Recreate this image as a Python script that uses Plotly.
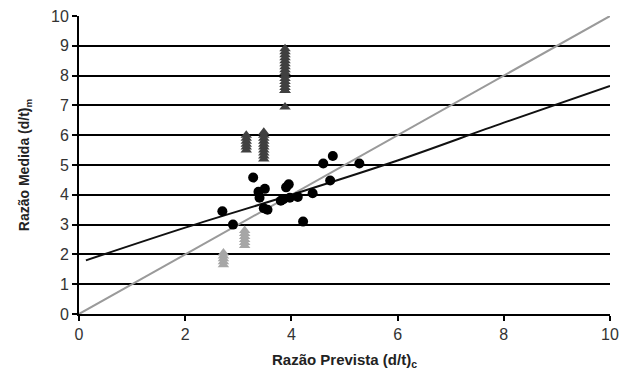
import plotly.graph_objects as go

# Black circles (measured data)
dots_x = [2.7, 2.9, 3.28, 3.38, 3.5, 3.4, 3.48, 3.55, 3.85, 3.9, 3.95, 3.97, 4.12, 4.22, 4.4, 4.6, 4.78, 4.73, 5.28, 3.8]
dots_y = [3.45, 3.0, 4.58, 4.1, 4.2, 3.9, 3.55, 3.5, 3.85, 4.25, 4.35, 3.9, 3.93, 3.1, 4.05, 5.05, 5.3, 4.48, 5.05, 3.8]

# Dark grey triangles
dark_x = [3.15, 3.15, 3.15, 3.15, 3.15, 3.15,
          3.48, 3.48, 3.48, 3.48, 3.48, 3.48, 3.48, 3.48, 3.48, 3.48,
          3.88, 3.88, 3.88, 3.88, 3.88, 3.88, 3.88, 3.88, 3.88, 3.88, 3.88, 3.88, 3.88, 3.88, 3.88, 3.88, 3.88]
dark_y = [5.5, 5.6, 5.7, 5.8, 5.9, 6.0,
          5.2, 5.3, 5.4, 5.5, 5.6, 5.7, 5.8, 5.9, 6.0, 6.1,
          7.5, 7.6, 7.7, 7.8, 7.9, 8.0, 8.1, 8.2, 8.3, 8.4, 8.5, 8.6, 8.7, 8.8, 8.9, 7.5, 6.95]

# Light grey triangles
light_x = [2.72, 2.72, 2.72, 2.72, 2.72, 3.12, 3.12, 3.12, 3.12, 3.12, 3.12]
light_y = [1.65, 1.75, 1.85, 1.95, 2.05, 2.3, 2.4, 2.5, 2.6, 2.7, 2.8]

# Identity line and trend line
ident_x = [0, 10]
ident_y = [0, 10]
trend_x = [0.13, 2, 4, 6, 8, 10]
trend_y = [1.8, 2.9, 4.0, 5.15, 6.42, 7.65]

x_ticks = [0, 2, 4, 6, 8, 10]
y_ticks = list(range(0, 11))

fig = go.Figure()
fig.add_trace(go.Scatter(x=ident_x, y=ident_y, mode="lines",
                         line=dict(color="#9a9a9a", width=2), hoverinfo="skip"))
fig.add_trace(go.Scatter(x=trend_x, y=trend_y, mode="lines", line_shape="spline",
                         line=dict(color="#111111", width=2), hoverinfo="skip"))
fig.add_trace(go.Scatter(x=light_x, y=light_y, mode="markers",
                         marker=dict(symbol="triangle-up", size=10, color="#a6a6a6")))
fig.add_trace(go.Scatter(x=dark_x, y=dark_y, mode="markers",
                         marker=dict(symbol="triangle-up", size=10, color="#404040")))
fig.add_trace(go.Scatter(x=dots_x, y=dots_y, mode="markers",
                         marker=dict(symbol="circle", size=10, color="#000000")))

font = "Liberation Sans, Arial, sans-serif"
fig.update_layout(
    width=627, height=376,
    margin=dict(l=79, r=17, t=16, b=62),
    paper_bgcolor="white", plot_bgcolor="white",
    showlegend=False,
    font=dict(family=font, color="#333333", size=16),
    xaxis=dict(range=[0, 10], tickvals=x_ticks, ticks="outside", ticklen=5,
               tickcolor="black", tickwidth=2, automargin=False,
               showline=True, linecolor="black", linewidth=2,
               showgrid=False, zeroline=False,
               title=dict(text="<b>Razão Prevista (d/t)<sub>c</sub></b>",
                          font=dict(size=15, color="#222222"), standoff=12)),
    yaxis=dict(range=[0, 10], tickvals=y_ticks, ticks="outside", ticklen=5,
               tickcolor="black", tickwidth=2, automargin=False,
               showline=True, linecolor="black", linewidth=2,
               showgrid=True, gridcolor="black", gridwidth=1.5, zeroline=False,
               title=dict(text="<b>Razão Medida (d/t)<sub>m</sub></b>",
                          font=dict(size=14, color="#222222"), standoff=18)),
)

fig.write_html("out.html")
